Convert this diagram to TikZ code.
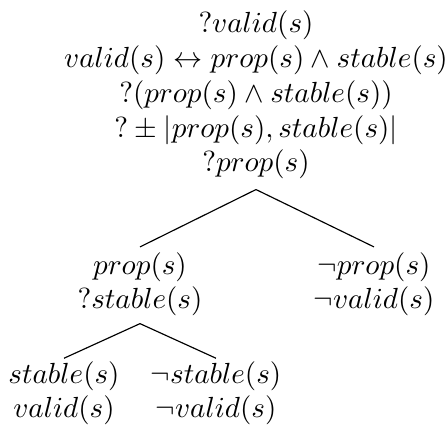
\documentclass[tikz,border=0pt]{standalone}
\begin{document}
\begin{tikzpicture}[x=0.3436pt,y=-0.3436pt,
  tnode/.style={align=center,inner sep=3.33pt,font=\normalsize},
  branch/.style={draw,line width=0.4pt}]
\useasboundingbox (0,0) rectangle (448,428);
% multi-line nodes are placed by the baseline of their last line
% root: the question and its reductions
\node[tnode,anchor=base] (root) at (256,172)
  {$?valid(s)$\\
   $valid(s)\leftrightarrow prop(s)\wedge stable(s)$\\
   $?(prop(s)\wedge stable(s))$\\
   $?\pm|prop(s),stable(s)|$\\
   $?prop(s)$};
% first split on prop(s)
\node[tnode,anchor=base] (yes) at (140,309) {$prop(s)$\\ $?stable(s)$};
\node[tnode,anchor=base] (no) at (374,309) {$\neg prop(s)$\\ $\neg valid(s)$};
% second split on stable(s)
\node[tnode,anchor=base] (yy) at (64,418) {$stable(s)$\\ $valid(s)$};
\node[tnode,anchor=base] (yn) at (216,418) {$\neg stable(s)$\\ $\neg valid(s)$};
% branches run from a parent's bottom to just above a child's first line
\draw[branch] (root.south) -- ([yshift=-1.7pt]yes.north);
\draw[branch] (root.south) -- ([yshift=-1.7pt]no.north);
\draw[branch] ([yshift=1pt]yes.south) -- ([yshift=-2.5pt]yy.north);
\draw[branch] ([yshift=1pt]yes.south) -- ([yshift=-2.5pt]yn.north);
\end{tikzpicture}
\end{document}
